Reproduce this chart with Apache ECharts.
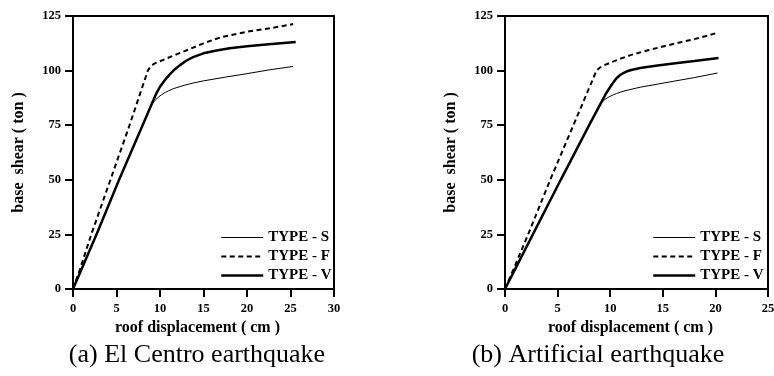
<!DOCTYPE html>
<html>
<head>
<meta charset="utf-8" />
<title>base shear - roof displacement</title>
<script src="https://cdn.jsdelivr.net/npm/echarts@6/dist/echarts.min.js"></script>
<style>
  html, body { margin: 0; padding: 0; background: #fff; }
  #main { width: 774px; height: 376px; }
</style>
</head>
<body>
<div id="main"></div>
<script>
// ---- (a) El Centro earthquake ----
const aDispS = [0, 2.7, 5.3, 8.0, 9.0, 9.4, 9.8, 10.2, 10.6, 11.0, 11.6, 12.3, 13.0, 13.8, 15.0, 17.5, 20.0, 22.5, 25.3];
const aShearS = [0, 25, 50, 75, 84.3, 86.2, 87.8, 89.0, 90.0, 90.8, 91.8, 92.7, 93.5, 94.3, 95.3, 97.0, 98.6, 100.3, 101.9];
const aDispF = [0, 0.8, 2.1, 4.3, 6.5, 8.6, 8.9, 9.2, 9.5, 10.0, 11.5, 13.0, 15.0, 17.0, 20.0, 23.0, 25.3];
const aShearF = [0, 9, 25, 50, 75, 100, 101.8, 102.8, 103.5, 104.3, 106.8, 109.2, 112.5, 115.3, 117.8, 119.6, 121.3];
const aDispV = [0, 2.7, 5.3, 8.0, 9.0, 9.6, 10.0, 10.4, 10.8, 11.2, 11.7, 12.3, 13.0, 13.8, 15.0, 16.5, 18.0, 20.0, 22.5, 25.6];
const aShearV = [0, 25, 50, 75, 84.3, 89.7, 92.6, 94.8, 96.8, 98.6, 100.6, 102.5, 104.5, 106.2, 107.9, 109.2, 110.2, 111.2, 112.1, 113.1];

// ---- (b) Artificial earthquake ----
const bDispS = [0, 2.65, 5.3, 8.0, 9.1, 9.5, 9.9, 10.3, 10.6, 10.95, 11.6, 12.86, 14.5, 16.0, 18.0, 20.2];
const bShearS = [0, 25, 50, 75, 85.0, 86.8, 88.0, 88.9, 89.5, 90.1, 91.0, 92.4, 93.8, 95.1, 96.8, 98.9];
const bDispF = [0, 0.8, 2.2, 4.3, 6.5, 8.7, 9.0, 9.3, 9.7, 10.2, 10.95, 12.0, 13.5, 15.0, 16.7, 18.5, 20.1];
const bShearF = [0, 9, 25, 50, 75, 100, 101.3, 102.2, 103.0, 104.0, 105.4, 107.2, 109.2, 111, 113, 115, 117.2];
const bDispV = [0, 2.65, 5.3, 8.0, 9.1, 9.6, 10.2, 10.6, 10.95, 11.3, 11.6, 12.0, 12.85, 14.5, 16.0, 18.0, 20.3];
const bShearV = [0, 25, 50, 75, 85.0, 89.5, 94.0, 96.5, 98.0, 99.0, 99.7, 100.3, 101.2, 102.3, 103.3, 104.4, 105.8];

const typeNames = ['TYPE - S', 'TYPE - F', 'TYPE - V'];
const captions = ['(a) El Centro earthquake', '(b) Artificial earthquake'];
const xMaxes = [30, 25];

const serif = "'Liberation Serif', 'Times New Roman', serif";

function pairs(xs, ys) {
  return xs.map(function (x, i) { return [x, ys[i]]; });
}

const chart = echarts.init(document.getElementById('main'), null, { renderer: 'canvas' });

const grids = [
  { left: 73, top: 16, width: 261, height: 273 },
  { left: 505, top: 16, width: 263, height: 273 }
];

function xAxisOf(i) {
  return {
    gridIndex: i,
    type: 'value',
    min: 0,
    max: xMaxes[i],
    interval: 5,
    name: 'roof displacement ( cm )',
    nameLocation: 'middle',
    nameGap: 29,
    nameTextStyle: { fontFamily: serif, fontWeight: 'bold', fontSize: 16, color: '#000', padding: [0, 12, 0, 0] },
    axisLine: { show: true, lineStyle: { color: '#000', width: 2 } },
    axisTick: { show: true, inside: false, length: 8, lineStyle: { color: '#000', width: 2 } },
    axisLabel: { margin: 13, fontFamily: serif, fontWeight: 'bold', fontSize: 12.5, color: '#000' },
    splitLine: { show: false }
  };
}

function yAxisOf(i) {
  return {
    gridIndex: i,
    type: 'value',
    min: 0,
    max: 125,
    interval: 25,
    name: 'base  shear ( ton )',
    nameLocation: 'middle',
    nameGap: 46,
    nameRotate: 90,
    nameTextStyle: { fontFamily: serif, fontWeight: 'bold', fontSize: 16, color: '#000' },
    axisLine: { show: true, lineStyle: { color: '#000', width: 2 } },
    axisTick: { show: true, inside: false, length: 8, lineStyle: { color: '#000', width: 2 } },
    axisLabel: { margin: 12, fontFamily: serif, fontWeight: 'bold', fontSize: 12.5, color: '#000' },
    splitLine: { show: false }
  };
}

const styleS = { width: 1 };
const styleF = { width: 2, type: [5, 3.5] };
const styleV = { width: 2.5 };
const typeStyles = [styleS, styleF, styleV];

function curve(k, idx, data) {
  return {
    name: typeNames[k],
    type: 'line',
    xAxisIndex: idx,
    yAxisIndex: idx,
    data: data,
    symbol: 'none',
    smooth: false,
    animation: false,
    lineStyle: Object.assign({ color: '#000' }, typeStyles[k]),
    itemStyle: { color: '#000' }
  };
}

function legendOf(left) {
  return {
    orient: 'vertical',
    left: left,
    top: 225,
    itemWidth: 42,
    itemHeight: 15,
    itemGap: 4,
    selectedMode: false,
    data: typeNames.map(function (n, k) {
      return {
        name: n,
        itemStyle: { opacity: 0 },
        lineStyle: Object.assign({ color: '#000', opacity: 1 }, typeStyles[k])
      };
    }),
    itemStyle: { opacity: 0 },
    textStyle: { fontFamily: serif, fontWeight: 'bold', fontSize: 15, lineHeight: 15, color: '#000' }
  };
}

function caption(text, x) {
  return {
    type: 'text', x: x, y: 355,
    style: { text: text, fontFamily: serif, fontSize: 26, fill: '#000', textAlign: 'center', textVerticalAlign: 'middle', align: 'center', verticalAlign: 'middle' }
  };
}

const option = {
  backgroundColor: '#fff',
  animation: false,
  grid: grids.map(function (g) {
    return Object.assign({ show: true, borderColor: '#000', borderWidth: 2, backgroundColor: '#fff', containLabel: false, outerBoundsMode: 'none' }, g);
  }),
  xAxis: [xAxisOf(0), xAxisOf(1)],
  yAxis: [yAxisOf(0), yAxisOf(1)],
  legend: [legendOf(215), legendOf(647)],
  graphic: [caption(captions[0], 197), caption(captions[1], 598)],
  series: [
    curve(0, 0, pairs(aDispS, aShearS)),
    curve(1, 0, pairs(aDispF, aShearF)),
    curve(2, 0, pairs(aDispV, aShearV)),
    curve(0, 1, pairs(bDispS, bShearS)),
    curve(1, 1, pairs(bDispF, bShearF)),
    curve(2, 1, pairs(bDispV, bShearV))
  ]
};

chart.setOption(option);
window.onresize = function () {
  chart.resize();
};
</script>
</body>
</html>
